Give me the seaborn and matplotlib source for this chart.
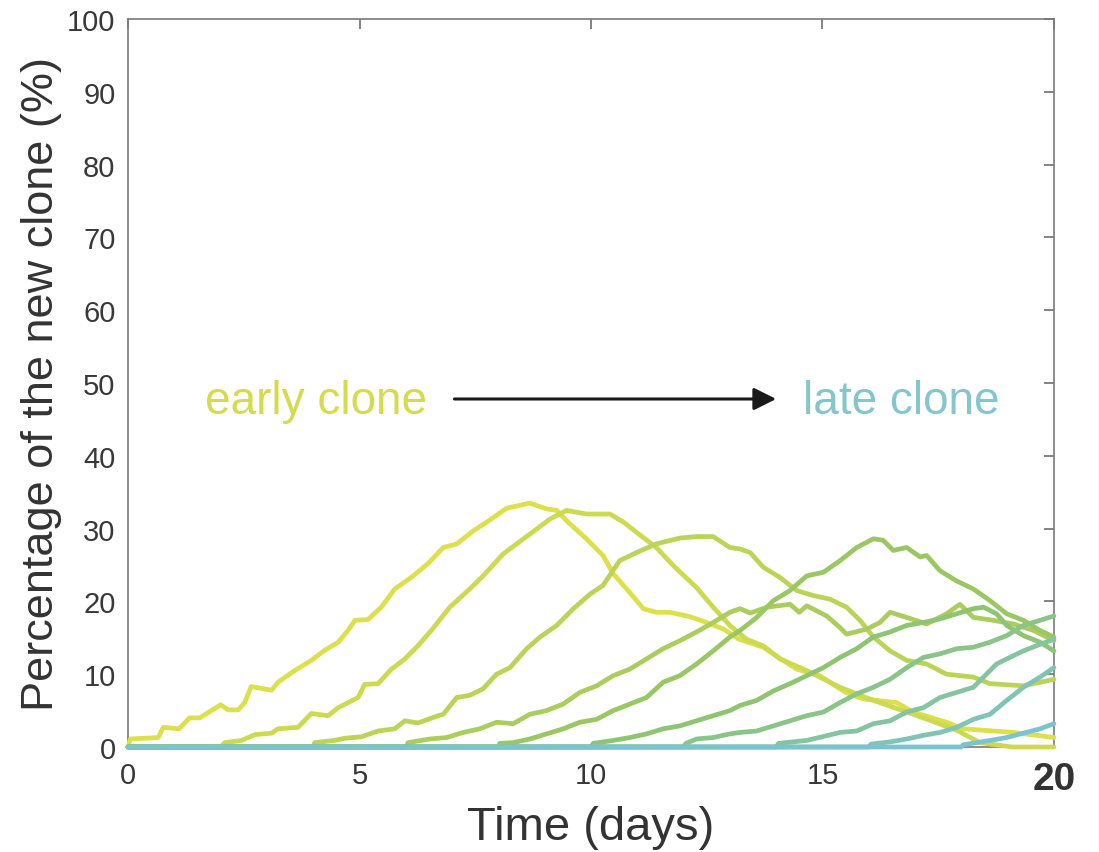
import numpy as np
import pandas as pd
import matplotlib
matplotlib.use("Agg")
import matplotlib.pyplot as plt
from matplotlib.colors import LinearSegmentedColormap
import seaborn as sns

# ---- data ----
clone1_t = [0, 0.05, 0.65, 0.76, 1.1, 1.33, 1.55, 2.0, 2.16, 2.38, 2.52, 2.66, 3.1, 3.24, 3.6, 3.96, 4.25, 4.54,
            4.75, 4.9, 5.18, 5.47, 5.76, 6.12, 6.48, 6.81, 7.1, 7.46, 7.82, 8.18, 8.68, 9.04, 9.26, 9.47, 9.9,
            10.26, 10.48, 10.84, 11.13, 11.41, 11.7, 12.14, 12.5, 12.86, 13.2, 13.72, 14.44, 14.94, 15.5, 15.88,
            16.6, 16.96, 17.68, 18.04, 19.12, 20]
clone1_v = [0, 1.1, 1.3, 2.7, 2.5, 4.0, 4.0, 5.8, 5.1, 5.1, 6.1, 8.3, 7.8, 8.9, 10.5, 11.9, 13.3, 14.4,
            16.0, 17.4, 17.5, 19.2, 21.7, 23.3, 25.2, 27.4, 27.9, 29.7, 31.2, 32.8, 33.5, 32.7, 32.5, 31.1, 28.6,
            26.3, 23.8, 21.2, 19.0, 18.5, 18.5, 17.9, 17.1, 16.2, 14.8, 13.7, 10.7, 9.8, 7.5, 6.6,
            6.1, 4.8, 3.4, 2.5, 2.0, 1.3]

clone2_t = [0, 2.0, 2.09, 2.45, 2.74, 3.1, 3.24, 3.67, 3.96, 4.32, 4.54, 4.97, 5.11, 5.4, 5.69, 5.98, 6.26,
            6.55, 6.95, 7.38, 7.67, 8.1, 8.54, 8.82, 9.11, 9.47, 9.9, 10.41, 10.7, 10.98, 11.41, 11.78, 12.28,
            12.64, 13.0, 13.36, 13.72, 14.08, 14.66, 15.38, 16.1, 16.96, 17.9, 18.4, 19.1, 20]
clone2_v = [0, 0, 0.6, 0.9, 1.7, 1.9, 2.5, 2.7, 4.6, 4.3, 5.4, 6.8, 8.6, 8.7, 10.7, 12.1, 13.9,
            16.0, 19.2, 21.7, 23.5, 26.5, 28.6, 29.9, 31.3, 32.5, 32.0, 32.0, 30.9, 29.5, 27.4, 24.9, 21.9,
            19.2, 16.7, 14.8, 13.9, 12.1, 10.5, 8.2, 6.4, 4.5, 2.3, 0.6, 0, 0]

clone3_t = [0, 4.0, 4.03, 4.46, 4.68, 5.04, 5.4, 5.76, 5.98, 6.26, 6.7, 6.81, 7.1, 7.38, 7.67, 7.96, 8.25,
            8.61, 8.9, 9.26, 9.62, 9.98, 10.26, 10.62, 10.98, 11.41, 11.92, 12.28, 12.64, 13.0, 13.22, 13.44,
            13.72, 14.08, 14.44, 14.8, 15.16, 15.52, 15.81, 16.1, 16.46, 16.82, 17.25, 17.68, 18.26, 18.62,
            19.34, 20]
clone3_v = [0, 0, 0.6, 0.9, 1.2, 1.4, 2.2, 2.5, 3.6, 3.3, 4.3, 4.5, 6.8, 7.1, 8.0, 10.0, 10.9,
            13.5, 15.1, 16.7, 19.0, 21.0, 22.2, 25.6, 26.7, 27.9, 28.7, 28.9, 28.9, 27.4, 27.2, 26.7,
            24.7, 23.3, 21.5, 20.8, 20.3, 19.2, 17.4, 15.1, 13.2, 11.9, 11.4, 10.0, 9.6, 8.7,
            8.4, 9.3]

clone4_t = [0, 6.0, 6.05, 6.52, 6.88, 7.24, 7.6, 7.96, 8.32, 8.68, 9.04, 9.4, 9.76, 10.12, 10.48, 10.84,
            11.2, 11.56, 11.92, 12.28, 12.64, 13.0, 13.22, 13.44, 13.8, 14.3, 14.5, 14.66, 15.09, 15.38, 15.52,
            15.96, 16.24, 16.46, 16.82, 17.25, 17.68, 17.97, 18.26, 18.69, 19.12, 19.56, 20]
clone4_v = [0, 0, 0.6, 1.1, 1.3, 2.0, 2.5, 3.4, 3.2, 4.5, 5.0, 5.9, 7.5, 8.4, 9.8, 10.7,
            12.1, 13.5, 14.6, 15.8, 17.1, 18.5, 19.0, 18.4, 19.2, 19.6, 18.5, 19.4, 18.0, 16.4, 15.5,
            16.2, 17.1, 18.5, 17.8, 16.9, 18.3, 19.6, 17.8, 17.4, 16.9, 16.0, 14.6]

clone5_t = [0, 8.0, 8.03, 8.32, 8.68, 9.04, 9.4, 9.76, 10.12, 10.48, 10.84, 11.2, 11.56, 11.92, 12.28, 12.64,
            13.0, 13.22, 13.58, 13.94, 14.3, 14.66, 15.02, 15.38, 15.74, 16.1, 16.31, 16.53, 16.82, 17.11,
            17.25, 17.54, 17.9, 18.26, 18.62, 18.98, 19.34, 19.7, 20]
clone5_v = [0, 0, 0.5, 0.6, 1.1, 1.8, 2.5, 3.4, 3.8, 5.0, 5.9, 6.8, 8.9, 9.8, 11.4, 13.2,
            15.1, 16.0, 17.8, 20.1, 21.5, 23.5, 24.0, 25.6, 27.4, 28.6, 28.4, 27.0, 27.4, 26.1,
            26.3, 24.2, 22.8, 21.7, 20.1, 18.3, 17.4, 16.0, 15.1]

clone6_t = [0, 10.0, 10.05, 10.48, 10.84, 11.2, 11.56, 11.92, 12.28, 12.64, 13.0, 13.22, 13.58, 13.94, 14.3,
            14.66, 15.02, 15.38, 15.74, 16.1, 16.46, 16.82, 17.18, 17.54, 17.9, 18.26, 18.48, 18.76, 18.98,
            19.34, 19.7, 20]
clone6_v = [0, 0, 0.5, 0.9, 1.3, 1.8, 2.5, 2.9, 3.6, 4.3, 5.0, 5.7, 6.4, 7.7, 8.7,
            9.8, 10.9, 12.3, 13.5, 15.1, 15.8, 16.7, 17.1, 17.6, 18.3, 19.0, 19.2, 18.3, 16.7,
            15.3, 14.4, 13.2]

clone7_t = [0, 12.0, 12.05, 12.28, 12.64, 13.0, 13.22, 13.58, 13.94, 14.3, 14.66, 15.02, 15.38, 15.74, 16.1,
            16.46, 16.82, 17.18, 17.54, 17.9, 18.26, 18.62, 18.98, 19.34, 19.7, 20]
clone7_v = [0, 0, 0.5, 1.1, 1.3, 1.8, 2.0, 2.2, 2.9, 3.6, 4.3, 4.8, 6.1, 7.3, 8.2,
            9.3, 10.9, 12.3, 12.8, 13.5, 13.7, 14.4, 15.3, 16.7, 17.4, 18.0]

clone8_t = [0, 14.0, 14.05, 14.66, 15.38, 15.74, 16.1, 16.46, 16.82, 17.18, 17.54, 17.9, 18.26, 18.48, 18.76,
            18.98, 19.34, 19.7, 20]
clone8_v = [0, 0, 0.5, 0.9, 2.0, 2.2, 3.2, 3.6, 4.8, 5.4, 6.8, 7.5, 8.2, 9.6, 11.4,
            12.1, 13.2, 14.1, 14.8]

clone9_t = [0, 16.0, 16.05, 16.46, 16.82, 17.18, 17.54, 17.9, 18.26, 18.62, 18.98, 19.34, 19.7, 20]
clone9_v = [0, 0, 0.4, 0.7, 1.1, 1.6, 2.0, 2.7, 3.8, 4.5, 6.4, 8.2, 9.6, 10.9]

clone10_t = [0, 18.0, 18.04, 18.62, 18.98, 19.34, 19.7, 20]
clone10_v = [0, 0, 0.3, 0.9, 1.3, 1.9, 2.5, 3.2]

x_ticks = [0, 5, 10, 15, 20]
y_ticks = [0, 10, 20, 30, 40, 50, 60, 70, 80, 90, 100]
x_label = "Time (days)"
y_label = "Percentage of the new clone (%)"
early_text = "early clone"
late_text = "late clone"

# ---- build long table ----
all_t = [clone1_t, clone2_t, clone3_t, clone4_t, clone5_t, clone6_t, clone7_t, clone8_t, clone9_t, clone10_t]
all_v = [clone1_v, clone2_v, clone3_v, clone4_v, clone5_v, clone6_v, clone7_v, clone8_v, clone9_v, clone10_v]
frames = []
for i, (t, v) in enumerate(zip(all_t, all_v)):
    frames.append(pd.DataFrame({"t": t, "v": v, "clone": i}))
df = pd.concat(frames, ignore_index=True)

cmap = LinearSegmentedColormap.from_list("clone", [(0.0, "#dbe04b"), (0.5, "#92c466"), (1.0, "#7bc4cd")])
n = len(all_t)
palette = {i: cmap(i / (n - 1)) for i in range(n)}

sns.set_theme(style="white")
plt.rcParams["font.family"] = ["Liberation Sans", "DejaVu Sans"]

fig = plt.figure(figsize=(10.99, 8.53), dpi=100)
ax = fig.add_axes([0.1165, 0.1231, 0.8425, 0.8535])

sns.lineplot(data=df, x="t", y="v", hue="clone", palette=palette, estimator=None, sort=False,
             units="clone", legend=False, linewidth=3.4, ax=ax)
for ln in ax.lines:
    ln.set_clip_on(False)
    ln.set_solid_joinstyle("round")
    ln.set_zorder(3)

ax.set_xlim(0, 20)
ax.set_ylim(0, 100)
ax.set_xticks(x_ticks)
ax.set_yticks(y_ticks)
ax.set_xticklabels([str(x) for x in x_ticks])
ax.set_yticklabels([str(y) for y in y_ticks])

tick_col = "#383838"
ax.tick_params(axis="both", which="major", direction="in", length=7.5, width=1.2, color="#6e6e6e",
               labelsize=21, labelcolor=tick_col, top=True, right=True)
ax.tick_params(axis="y", pad=9)
ax.tick_params(axis="x", pad=10)
last = ax.get_xticklabels()[-1]
last.set_fontweight("bold")
last.set_fontsize(28)
last.set_color("#333333")

for s in ax.spines.values():
    s.set_visible(True)
    s.set_color("#7a7a7a")
    s.set_linewidth(1.2)

ax.set_xlabel(x_label, fontsize=34, color="#333333", labelpad=6)
ax.set_ylabel(y_label, fontsize=32.5, color="#333333", labelpad=4)

ax.text(4.05, 47.5, early_text, fontsize=33, color="#d4dc4e", ha="center", va="center")
ax.text(16.7, 47.5, late_text, fontsize=33, color="#84c6cc", ha="center", va="center")
ax.annotate("", xy=(14.0, 47.8), xytext=(7.05, 47.8),
            arrowprops=dict(arrowstyle="-|>", color="#1a1a1a", lw=2.2, mutation_scale=34,
                            shrinkA=0, shrinkB=0))

fig.savefig("out.png", dpi=100)
